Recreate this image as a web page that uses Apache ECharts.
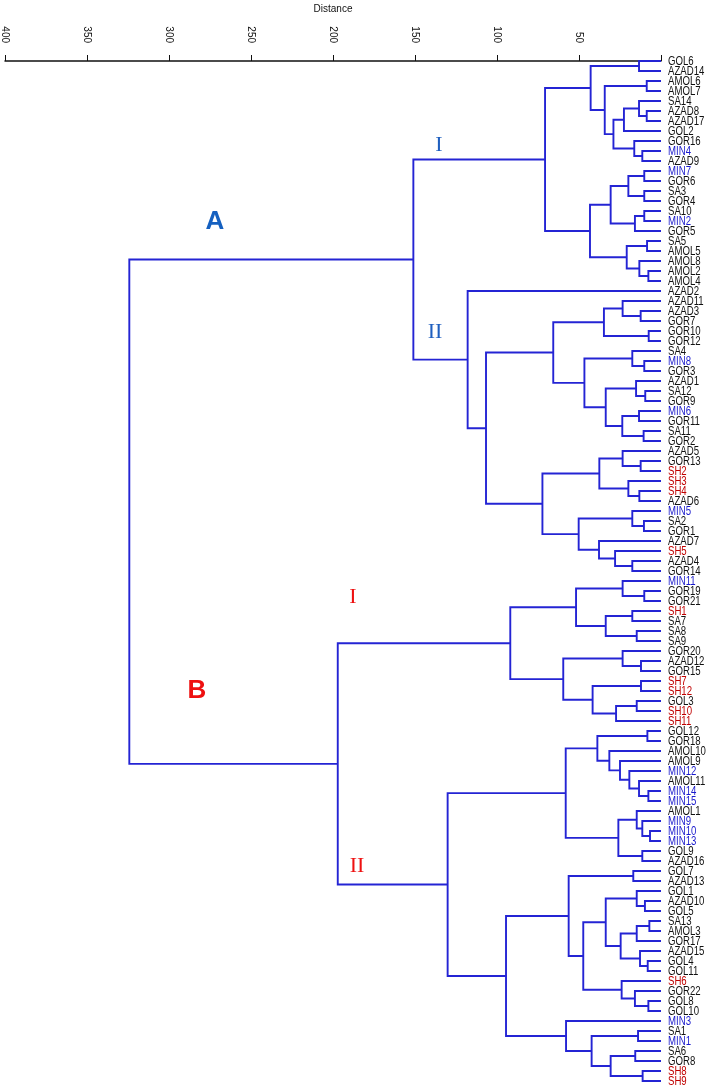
<!DOCTYPE html>
<html>
<head>
<meta charset="utf-8">
<script src="https://cdn.jsdelivr.net/npm/echarts@6/dist/echarts.min.js"></script>
<style>html,body{margin:0;padding:0;background:#fff;}#chart{width:709px;height:1087px;}</style>
</head>
<body>
<div id="chart"></div>
<script>
// Leaves in display order (top to bottom)
const leaves = ['GOL6','AZAD14','AMOL6','AMOL7','SA14','AZAD8','AZAD17','GOL2','GOR16','MIN4','AZAD9',
 'MIN7','GOR6','SA3','GOR4','SA10','MIN2','GOR5','SA5','AMOL5','AMOL8','AMOL2','AMOL4',
 'AZAD2','AZAD11','AZAD3','GOR7','GOR10','GOR12','SA4','MIN8','GOR3','AZAD1','SA12','GOR9','MIN6','GOR11','SA11','GOR2',
 'AZAD5','GOR13','SH2','SH3','SH4','AZAD6','MIN5','SA2','GOR1','AZAD7','SH5','AZAD4','GOR14',
 'MIN11','GOR19','GOR21','SH1','SA7','SA8','SA9','GOR20','AZAD12','GOR15','SH7','SH12','GOL3','SH10','SH11',
 'GOL12','GOR18','AMOL10','AMOL9','MIN12','AMOL11','MIN14','MIN15','AMOL1','MIN9','MIN10','MIN13','GOL9','AZAD16',
 'GOL7','AZAD13','GOL1','AZAD10','GOL5','SA13','AMOL3','GOR17','AZAD15','GOL4','GOL11','SH6','GOR22','GOL8','GOL10',
 'MIN3','SA1','MIN1','SA6','GOR8','SH8','SH9'];

// Merges: [id, childA, childB, distance]
const merges = [
 ['m1','GOL6','AZAD14',13.4],['m2','AMOL6','AMOL7',8.7],['m3','AZAD8','AZAD17',8.7],['m4','SA14','m3',13.4],
 ['m5','m4','GOL2',22.6],['m6','MIN4','AZAD9',11.4],['m7','GOR16','m6',16.3],['m8','m5','m7',29.0],
 ['m9','m2','m8',34.3],['m10','m1','m9',42.9],['m11','MIN7','GOR6',10.2],['m12','SA3','GOR4',10.2],
 ['m13','m11','m12',19.9],['m14','SA10','MIN2',10.2],['m15','m14','GOR5',15.9],['m16','m13','m15',30.7],
 ['m17','SA5','AMOL5',8.5],['m18','AMOL2','AMOL4',7.7],['m19','AMOL8','m18',13.2],['m20','m17','m19',20.9],
 ['m21','m16','m20',43.3],['m22','m10','m21',70.7],
 ['m23','AZAD3','GOR7',12.4],['m24','AZAD11','m23',23.4],['m25','GOR10','GOR12',7.5],['m26','m24','m25',34.8],
 ['m27','MIN8','GOR3',10.2],['m28','SA4','m27',17.5],['m29','SA12','GOR9',9.6],['m30','AZAD1','m29',15.2],
 ['m31','MIN6','GOR11',13.4],['m32','SA11','GOR2',10.6],['m33','m31','m32',23.6],['m34','m30','m33',33.7],
 ['m35','m28','m34',46.7],['m36','m26','m35',65.7],['m37','GOR13','SH2',12.4],['m38','AZAD5','m37',23.4],
 ['m39','SH4','AZAD6',13.2],['m40','SH3','m39',19.9],['m41','m38','m40',37.6],['m42','SA2','GOR1',10.4],
 ['m43','MIN5','m42',17.5],['m44','AZAD4','GOR14',17.5],['m45','SH5','m44',28.0],['m46','AZAD7','m45',37.8],
 ['m47','m43','m46',50.2],['m48','m41','m47',72.3],['m49','m36','m48',106.7],['m50','AZAD2','m49',117.9],
 ['m51','m22','m50',151.0],
 ['m52','GOR19','GOR21',10.2],['m53','MIN11','m52',23.4],['m54','SH1','SA7',17.5],['m55','SA8','SA9',14.8],
 ['m56','m54','m55',33.7],['m57','m53','m56',51.8],['m58','AZAD12','GOR15',12.2],['m59','GOR20','m58',23.4],
 ['m60','SH7','SH12',12.2],['m61','GOL3','SH10',14.8],['m62','m61','SH11',27.4],['m63','m60','m62',41.7],
 ['m64','m59','m63',59.6],['m65','m57','m64',91.9],
 ['m66','GOL12','GOR18',8.3],['m67','MIN14','MIN15',7.7],['m68','AMOL11','m67',13.4],['m69','MIN12','m68',19.3],
 ['m70','AMOL9','m69',25.0],['m71','AMOL10','m70',31.5],['m72','m66','m71',38.8],['m73','MIN10','MIN13',6.7],
 ['m74','MIN9','m73',11.4],['m75','AMOL1','m74',14.8],['m76','GOL9','AZAD16',11.4],['m77','m75','m76',26.0],
 ['m78','m72','m77',58.1],['m79','GOL7','AZAD13',16.9],['m80','AZAD10','GOL5',9.8],['m81','GOL1','m80',14.8],
 ['m82','SA13','AMOL3',7.1],['m83','m82','GOR17',14.8],['m84','GOL4','GOL11',8.1],['m85','AZAD15','m84',12.8],
 ['m86','m83','m85',24.6],['m87','m81','m86',33.7],['m88','GOL8','GOL10',7.7],['m89','GOR22','m88',15.9],
 ['m90','SH6','m89',24.0],['m91','m87','m90',47.4],['m92','m79','m91',56.3],['m93','SA1','MIN1',14.0],
 ['m94','SA6','GOR8',15.7],['m95','SH8','SH9',11.2],['m96','m94','m95',30.7],['m97','m93','m96',42.3],
 ['m98','MIN3','m97',57.9],['m99','m92','m98',94.5],['m100','m78','m99',130.1],['m101','m65','m100',197.1],
 ['m102','m51','m101',324.2]
];

const axisTicks = [400,350,300,250,200,150,100,50];

// Cluster annotation labels
const annotations = [
 {text:'A', x:215, y:222, color:'#1560c0', font:'bold 26px "Liberation Sans", Arial, sans-serif'},
 {text:'B', x:197, y:691, color:'#ee1111', font:'bold 26px "Liberation Sans", Arial, sans-serif'},
 {text:'I', x:439, y:145, color:'#1f5fbf', font:'22px "Liberation Serif", "Times New Roman", serif'},
 {text:'II', x:435, y:332, color:'#1f5fbf', font:'22px "Liberation Serif", "Times New Roman", serif'},
 {text:'I', x:353, y:597, color:'#ee1111', font:'22px "Liberation Serif", "Times New Roman", serif'},
 {text:'II', x:357, y:866, color:'#ee1111', font:'22px "Liberation Serif", "Times New Roman", serif'}
];

// Build node positions
const pos = {};
leaves.forEach((n,i)=>{ pos[n] = {y:i, h:0}; });
const linkData = merges.map(m=>{
  const a = pos[m[1]], b = pos[m[2]];
  pos[m[0]] = {y:(a.y+b.y)/2, h:m[3]};
  return [m[3], a.y, b.y, a.h, b.h];
});
const leafData = leaves.map((n,i)=>[0, i, n]);

function leafColor(n){
  if (n.indexOf('MIN')===0) return '#1a1acd';
  if (n.indexOf('SH')===0) return '#c00000';
  return '#111';
}

const lineColor = '#2424d4';
const chart = echarts.init(document.getElementById('chart'));
chart.setOption({
  animation:false,
  backgroundColor:'#fff',
  grid:{left:5, right:48, top:51, bottom:0, containLabel:false, outerBoundsMode:'none'},
  xAxis:{
    type:'value', position:'top', inverse:true, min:0, max:400, interval:50,
    name:'Distance', nameLocation:'middle', nameGap:37,
    nameTextStyle:{fontSize:10, color:'#111', fontFamily:'"Liberation Sans", Arial, sans-serif'},
    axisLine:{show:true, lineStyle:{color:'#111', width:1.5}},
    axisTick:{show:true, length:6, lineStyle:{color:'#111', width:1}},
    axisLabel:{rotate:-90, margin:8, fontSize:10, color:'#111',
      fontFamily:'"Liberation Sans", Arial, sans-serif',
      formatter:v=> axisTicks.indexOf(v)>=0 ? String(v) : ''},
    splitLine:{show:false}
  },
  yAxis:{type:'value', inverse:true, min:-1, max:102.6, show:false},
  series:[
    {
      type:'custom', data:linkData, clip:false,
      renderItem:(params, api)=>{
        const h=api.value(0), ya=api.value(1), yb=api.value(2), ha=api.value(3), hb=api.value(4);
        const p1=api.coord([ha,ya]), p2=api.coord([h,ya]), p3=api.coord([h,yb]), p4=api.coord([hb,yb]);
        return {type:'polyline', shape:{points:[p1,p2,p3,p4]},
          style:{stroke:lineColor, lineWidth:1.9, fill:null}};
      }
    },
    {
      type:'custom', data:leafData, clip:false,
      renderItem:(params, api)=>{
        const p=api.coord([api.value(0), api.value(1)]);
        const name = leafData[params.dataIndex][2];
        return {type:'text', x:p[0]+7, y:p[1], scaleX:0.74,
          style:{text:name, fill:leafColor(name), font:'13px "Liberation Sans", Arial, sans-serif',
            textAlign:'left', textVerticalAlign:'middle'}};
      }
    }
  ],
  graphic: annotations.map(a=>({type:'text', x:a.x, y:a.y,
    style:{text:a.text, fill:a.color, font:a.font, textAlign:'center', textVerticalAlign:'middle'}}))
});
</script>
</body>
</html>
